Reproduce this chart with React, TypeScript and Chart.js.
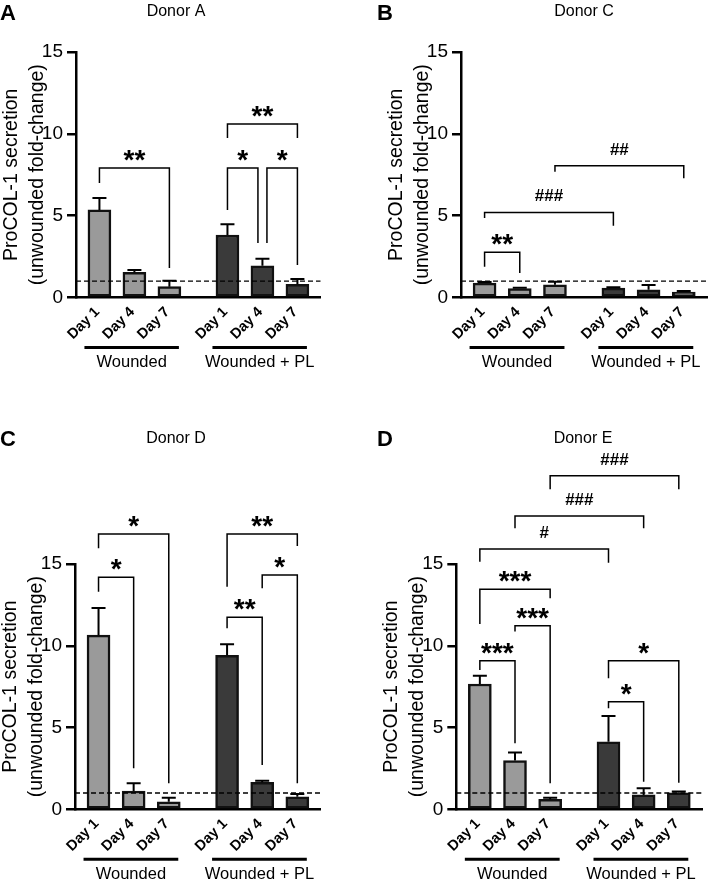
import React, { useEffect, useRef } from 'react';
import { Chart, registerables } from 'chart.js';

Chart.register(...registerables);

const FONT = '"Liberation Sans", Arial, Helvetica, sans-serif';

// Shared axis content
const DAY_LABELS = ['Day 1', 'Day 4', 'Day 7', 'Day 1', 'Day 4', 'Day 7'];
const DAY_X = [0, 1, 2, 3.66, 4.66, 5.66];
const GROUP_LABELS = ['Wounded', 'Wounded + PL'];
const Y_TICKS = [0, 5, 10, 15];
const Y_TITLE = ['ProCOL-1 secretion', '(unwounded fold-change)'];
const UNWOUNDED_LEVEL = 1;

// Statistics rows: [from bar, to bar, bracket height, left leg end, right leg end, label]

// Donor A
const DONOR_A_WOUNDED = [5.35, 1.54, 0.66];
const DONOR_A_WOUNDED_SEM = [0.73, 0.14, 0.37];
const DONOR_A_PL = [3.82, 1.94, 0.81];
const DONOR_A_PL_SEM = [0.65, 0.43, 0.32];
const DONOR_A_STATS = [
  [0, 2, 7.91, 6.99, 1.8, '**'],
  [3, 4, 7.91, 5.35, 3.33, '*'],
  [4, 5, 7.91, 3.33, 1.99, '*'],
  [3, 5, 10.6, 9.74, 9.74, '**'],
];

// Donor C
const DONOR_C_WOUNDED = [0.88, 0.55, 0.78];
const DONOR_C_WOUNDED_SEM = [0.07, 0.04, 0.18];
const DONOR_C_PL = [0.57, 0.47, 0.33];
const DONOR_C_PL_SEM = [0.05, 0.3, 0.06];
const DONOR_C_STATS = [
  [0, 1, 2.76, 1.88, 1.5, '**'],
  [0, 3, 5.2, 4.86, 4.39, '###'],
  [2, 5, 8.05, 7.68, 7.28, '##'],
];

// Donor D
const DONOR_D_WOUNDED = [10.65, 1.12, 0.46];
const DONOR_D_WOUNDED_SEM = [1.66, 0.47, 0.25];
const DONOR_D_PL = [9.42, 1.65, 0.77];
const DONOR_D_PL_SEM = [0.67, 0.1, 0.17];
const DONOR_D_STATS = [
  [0, 2, 16.84, 15.96, 1.59, '*'],
  [0, 1, 14.19, 13.31, 2.51, '*'],
  [3, 5, 16.84, 13.61, 16.1, '**'],
  [4, 5, 14.33, 13.52, 1.59, '*'],
  [3, 4, 11.74, 11.07, 2.71, '**'],
];

// Donor E
const DONOR_E_WOUNDED = [7.66, 2.98, 0.61];
const DONOR_E_WOUNDED_SEM = [0.5, 0.5, 0.1];
const DONOR_E_PL = [4.13, 0.88, 1.01];
const DONOR_E_PL_SEM = [1.57, 0.41, 0.08];
const DONOR_E_STATS = [
  [2, 5, 20.39, 19.57, 19.57, '###'],
  [1, 4, 17.94, 17.19, 17.19, '###'],
  [0, 3, 15.92, 15.14, 15.08, '#'],
  [0, 2, 13.46, 11.33, 12.9, '***'],
  [1, 2, 11.23, 10.87, 1.59, '***'],
  [0, 1, 9.09, 8.52, 4.04, '***'],
  [3, 5, 9.09, 8.01, 1.63, '*'],
  [3, 4, 6.58, 6.18, 1.69, '*'],
];

const PANELS = [
  {
    letter: 'A', title: 'Donor A',
    wounded: DONOR_A_WOUNDED, woundedSem: DONOR_A_WOUNDED_SEM,
    pl: DONOR_A_PL, plSem: DONOR_A_PL_SEM, stats: DONOR_A_STATS,
    box: { left: 0, top: 0, width: 354, height: 420 },
    area: { left: 76, right: 320.5, top: 52, bottom: 297.5 },
    letterAt: [0, 20], titleAt: [176, 16],
  },
  {
    letter: 'B', title: 'Donor C',
    wounded: DONOR_C_WOUNDED, woundedSem: DONOR_C_WOUNDED_SEM,
    pl: DONOR_C_PL, plSem: DONOR_C_PL_SEM, stats: DONOR_C_STATS,
    box: { left: 354, top: 0, width: 355, height: 420 },
    area: { left: 107, right: 353, top: 52, bottom: 297.5 },
    letterAt: [23, 20], titleAt: [230, 16],
  },
  {
    letter: 'C', title: 'Donor D',
    wounded: DONOR_D_WOUNDED, woundedSem: DONOR_D_WOUNDED_SEM,
    pl: DONOR_D_PL, plSem: DONOR_D_PL_SEM, stats: DONOR_D_STATS,
    box: { left: 0, top: 420, width: 354, height: 461 },
    area: { left: 75, right: 320.5, top: 144, bottom: 389.3 },
    letterAt: [0, 26], titleAt: [176, 23],
  },
  {
    letter: 'D', title: 'Donor E',
    wounded: DONOR_E_WOUNDED, woundedSem: DONOR_E_WOUNDED_SEM,
    pl: DONOR_E_PL, plSem: DONOR_E_PL_SEM, stats: DONOR_E_STATS,
    box: { left: 354, top: 420, width: 355, height: 461 },
    area: { left: 102.3, right: 348, top: 144, bottom: 389.3 },
    letterAt: [23, 26], titleAt: [229, 23],
  },
];

function drawDecorations(chart, panel) {
  const { ctx, chartArea: ca } = chart;
  const xs = chart.scales.x;
  const ys = chart.scales.y;
  const px = (i) => xs.getPixelForValue(DAY_X[i]);
  const py = (v) => ys.getPixelForValue(v);

  ctx.save();
  ctx.strokeStyle = '#000';
  ctx.fillStyle = '#000';

  // unwounded reference level
  ctx.setLineDash([5, 3]);
  ctx.lineWidth = 1.4;
  ctx.beginPath();
  ctx.moveTo(ca.left, py(UNWOUNDED_LEVEL));
  ctx.lineTo(ca.right, py(UNWOUNDED_LEVEL));
  ctx.stroke();
  ctx.setLineDash([]);

  // SEM whiskers (upper only)
  const means = [...panel.wounded, ...panel.pl];
  const sems = [...panel.woundedSem, ...panel.plSem];
  ctx.lineWidth = 2;
  means.forEach((m, i) => {
    const x = px(i);
    const y0 = py(m);
    const y1 = py(m + sems[i]);
    ctx.beginPath();
    ctx.moveTo(x, y0);
    ctx.lineTo(x, y1);
    ctx.moveTo(x - 7, y1);
    ctx.lineTo(x + 7, y1);
    ctx.stroke();
  });

  // significance brackets
  const stats = panel.stats;
  stats.forEach((s) => {
    const [a, b, level, dropA, dropB, label] = s;
    let xa = px(a);
    let xb = px(b);
    if (stats.some((o) => o !== s && o[1] === a && o[2] === level)) xa += 4.5;
    if (stats.some((o) => o !== s && o[0] === b && o[2] === level)) xb -= 4.5;
    const yl = py(level);
    ctx.lineWidth = 1.5;
    ctx.beginPath();
    ctx.moveTo(xa, py(dropA));
    ctx.lineTo(xa, yl);
    ctx.lineTo(xb, yl);
    ctx.lineTo(xb, py(dropB));
    ctx.stroke();
    ctx.textAlign = 'center';
    ctx.textBaseline = 'alphabetic';
    if (label.startsWith('#')) {
      ctx.font = `bold 17px ${FONT}`;
      ctx.fillText(label, (xa + xb) / 2, yl - 11);
    } else {
      ctx.font = `bold 28px ${FONT}`;
      ctx.fillText(label, (xa + xb) / 2, yl + 1);
    }
  });

  // treatment group underlines and names
  const gy = ca.bottom + 50;
  [[0, 2], [3, 5]].forEach(([f, l], g) => {
    const x0 = px(f) - 15;
    const x1 = px(l) + 9.5;
    ctx.lineWidth = 3;
    ctx.beginPath();
    ctx.moveTo(x0, gy);
    ctx.lineTo(x1, gy);
    ctx.stroke();
    ctx.font = `16.5px ${FONT}`;
    ctx.textAlign = 'center';
    ctx.textBaseline = 'alphabetic';
    ctx.fillText(GROUP_LABELS[g], (x0 + x1) / 2, ca.bottom + 69.5);
  });

  // y-axis title, two lines
  const cy = (ca.top + ca.bottom) / 2;
  ctx.font = `19.5px ${FONT}`;
  ctx.textAlign = 'center';
  ctx.textBaseline = 'alphabetic';
  [59, 33].forEach((off, k) => {
    ctx.save();
    ctx.translate(ca.left - off, cy);
    ctx.rotate(-Math.PI / 2);
    ctx.fillText(Y_TITLE[k], 0, 0);
    ctx.restore();
  });

  // panel letter and donor title
  ctx.textAlign = 'left';
  ctx.font = `bold 22px ${FONT}`;
  ctx.fillText(panel.letter, panel.letterAt[0], panel.letterAt[1]);
  ctx.textAlign = 'center';
  ctx.font = `16px ${FONT}`;
  ctx.fillText(panel.title, panel.titleAt[0], panel.titleAt[1]);

  ctx.restore();
}

function Panel({ panel }) {
  const ref = useRef(null);

  useEffect(() => {
    const { box, area } = panel;
    const barStyle = {
      borderColor: '#111',
      borderWidth: 2.5,
      borderSkipped: false,
      barThickness: 23,
      grouped: false,
    };
    const chart = new Chart(ref.current, {
      type: 'bar',
      data: {
        datasets: [
          {
            label: GROUP_LABELS[0],
            data: panel.wounded.map((v, i) => ({ x: DAY_X[i], y: v })),
            backgroundColor: '#9a9a9a',
            ...barStyle,
          },
          {
            label: GROUP_LABELS[1],
            data: panel.pl.map((v, i) => ({ x: DAY_X[i + 3], y: v })),
            backgroundColor: '#3a3a3a',
            ...barStyle,
          },
        ],
      },
      options: {
        responsive: false,
        animation: false,
        events: [],
        layout: { padding: { left: 0, top: area.top, right: box.width - area.right, bottom: 0 } },
        plugins: {
          legend: { display: false },
          tooltip: { enabled: false },
          title: { display: false },
        },
        scales: {
          x: {
            type: 'linear',
            min: -0.67,
            max: 6.32,
            offset: false,
            grid: { display: false, drawTicks: false, offset: false },
            border: { display: true, color: '#000', width: 2.5 },
            afterBuildTicks: (s) => { s.ticks = DAY_X.map((v) => ({ value: v })); },
            afterFit: (s) => { s.height = box.height - area.bottom; },
            ticks: {
              autoSkip: false,
              minRotation: 45,
              maxRotation: 45,
              padding: 6,
              labelOffset: -2,
              color: '#000',
              font: { family: FONT, size: 14.5, weight: 'bold' },
              callback: (_v, i) => DAY_LABELS[i],
            },
          },
          y: {
            type: 'linear',
            min: 0,
            max: 15,
            afterBuildTicks: (s) => { s.ticks = Y_TICKS.map((v) => ({ value: v })); },
            afterFit: (s) => { s.width = area.left; },
            grid: {
              display: true,
              drawOnChartArea: false,
              drawTicks: true,
              tickLength: 9,
              lineWidth: 2.5,
              color: '#000',
              tickColor: '#000',
            },
            border: { display: true, color: '#000', width: 2.5 },
            ticks: { padding: 4, color: '#000', font: { family: FONT, size: 19 } },
          },
        },
      },
      plugins: [{ id: 'panelDecor', afterDraw: (c) => drawDecorations(c, panel) }],
    });
    return () => chart.destroy();
  }, [panel]);

  const { box } = panel;
  return (
    <canvas
      ref={ref}
      width={box.width}
      height={box.height}
      style={{ position: 'absolute', left: box.left, top: box.top, width: box.width, height: box.height }}
    />
  );
}

export default function App() {
  return (
    <div style={{ position: 'absolute', left: 0, top: 0, width: 709, height: 881, background: '#fff', overflow: 'hidden' }}>
      {PANELS.map((p) => (
        <Panel key={p.letter} panel={p} />
      ))}
    </div>
  );
}
